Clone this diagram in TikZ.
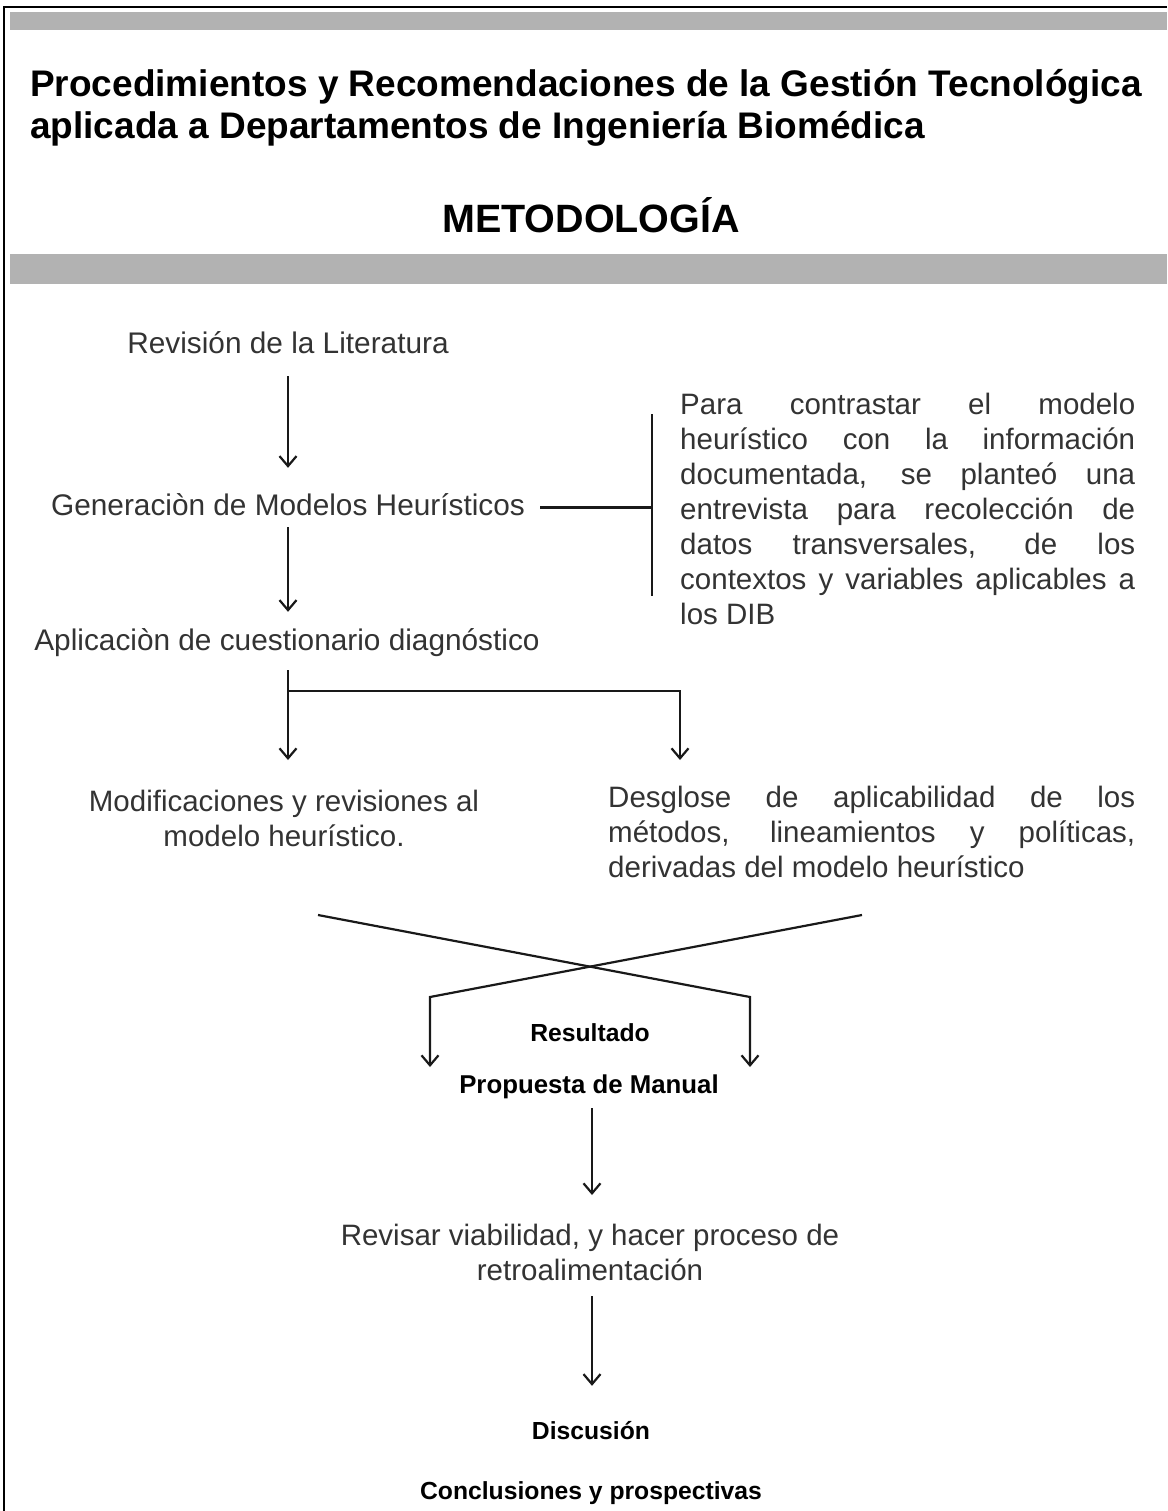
\documentclass[tikz,border=0pt]{standalone}
\usepackage{fontspec}
\setmainfont{Liberation Sans}
\usetikzlibrary{arrows.meta}
\hyphenpenalty=10000

\tikzset{
	hdr/.style={font=\fontsize{37}{42}\selectfont\bfseries, inner sep=0pt},
	lbl/.style={font=\fontsize{29.8}{35}\selectfont, text=black!80, inner sep=0pt, text height=22pt, text depth=7pt},
	para/.style={font=\fontsize{29.5}{35}\selectfont, text=black!80, inner sep=0pt},
	bold/.style={font=\fontsize{24.7}{30}\selectfont\bfseries, inner sep=0pt, text height=18pt, text depth=5pt},
	wire/.style={line width=2.2pt, color=black!90},
	flow/.style={wire, ->}
}

\begin{document}
\begin{tikzpicture}[x=1pt, y=-1pt, >={Straight Barb[length=10pt,width=17pt]}]
			%%%%% FRAME %%%%%
			\useasboundingbox (0,0) rectangle (1167,1511);
			\fill[white] (0,0) rectangle (1167,1511);
			\draw[line width=2pt] (4,1511) -- (4,7) -- (1167,7);
			\draw[fill=black!30, draw=none] (10, 12) rectangle (1167, 30);
			\draw[fill=black!30, draw=none] (10, 254) rectangle (1167, 284);
			
			\node[hdr, anchor=base west] (title1) at (30, 97) {Procedimientos y Recomendaciones de la Gestión Tecnológica};
			\node[hdr, anchor=base west] (title2) at (30, 139) {aplicada a Departamentos de Ingeniería Biomédica};
			\node[hdr, font=\fontsize{39.5}{42}\selectfont\bfseries, anchor=base] (metod) at (591, 233) {METODOLOGÍA};
			
			%%%%% UPPER FLOW %%%%%
			\node[lbl, anchor=base] (rev) at (288, 353) {Revisión de la Literatura};
			\node[lbl, anchor=base] (gen) at (288, 515) {Generaciòn de Modelos Heurísticos};
			\node[lbl, anchor=base] (apl) at (287, 650) {Aplicaciòn de cuestionario diagnóstico};
			
			\draw[flow, shorten <=16pt, shorten >=25pt] (rev.south) -- (gen.north);
			\draw[flow, shorten <=5pt, shorten >=16pt] (gen.south) -- (gen.south |- apl.north);
			
			\coordinate (brktop) at (652, 414);
			\coordinate (brkbot) at (652, 596);
			\draw[wire, shorten <=15pt] (gen.east) -- (gen.east -| brktop);
			\draw[wire] (brktop) -- (brkbot);
			
			\node[para, anchor=north west, text width=455pt, align=justify] (nota) at (680, 393)
				{Para contrastar el modelo\linebreak heurístico con la información\linebreak documentada, se planteó una\linebreak entrevista para recolección de\linebreak datos transversales, de los\linebreak contextos y variables aplicables a\linebreak los DIB};
			
			%%%%% BRANCH %%%%%
			\coordinate (split) at (288, 691);
			\coordinate (tipL) at (288, 760);
			\coordinate (tipR) at (680, 760);
			\draw[flow, shorten <=13pt] (apl.south -| tipL) -- (tipL);
			\draw[flow] (split) -- (split -| tipR) -- (tipR);
			
			\node[para, anchor=north, align=center] (mod) at (284, 790)
				{Modificaciones y revisiones al\\modelo heurístico.};
			\node[para, anchor=north west, text width=527pt, align=justify] (desg) at (608, 786)
				{Desglose de aplicabilidad de los\linebreak métodos, lineamientos y políticas,\linebreak derivadas del modelo heurístico};
			
			%%%%% CROSS %%%%%
			\coordinate (xl) at (318, 915);
			\coordinate (xr) at (862, 915);
			\coordinate (kl) at (430, 997);
			\coordinate (kr) at (750, 997);
			\coordinate (tl) at (430, 1067);
			\coordinate (tr) at (750, 1067);
			\draw[flow] (xl) -- (kr) -- (tr);
			\draw[flow] (xr) -- (kl) -- (tl);
			
			%%%%% LOWER FLOW %%%%%
			\node[bold, anchor=base] (res) at (590, 1041) {Resultado};
			\node[bold, font=\fontsize{25.8}{30}\selectfont\bfseries, anchor=base] (prop) at (589, 1093) {Propuesta de Manual};
			\node[para, anchor=north, align=center] (revis) at (590, 1224)
				{Revisar viabilidad, y hacer proceso de\\retroalimentación};
			\node[bold, anchor=base] (disc) at (591, 1439) {Discusión};
			\node[bold, anchor=base] (concl) at (591, 1499) {Conclusiones y prospectivas};
			
			\coordinate (mid) at (592, 0);
			\draw[flow, shorten <=10pt, shorten >=29pt] (prop.south -| mid) -- (revis.north -| mid);
			\draw[flow, shorten <=15pt, shorten >=35pt] (revis.south -| mid) -- (disc.north -| mid);
			
\end{tikzpicture}
\end{document}
